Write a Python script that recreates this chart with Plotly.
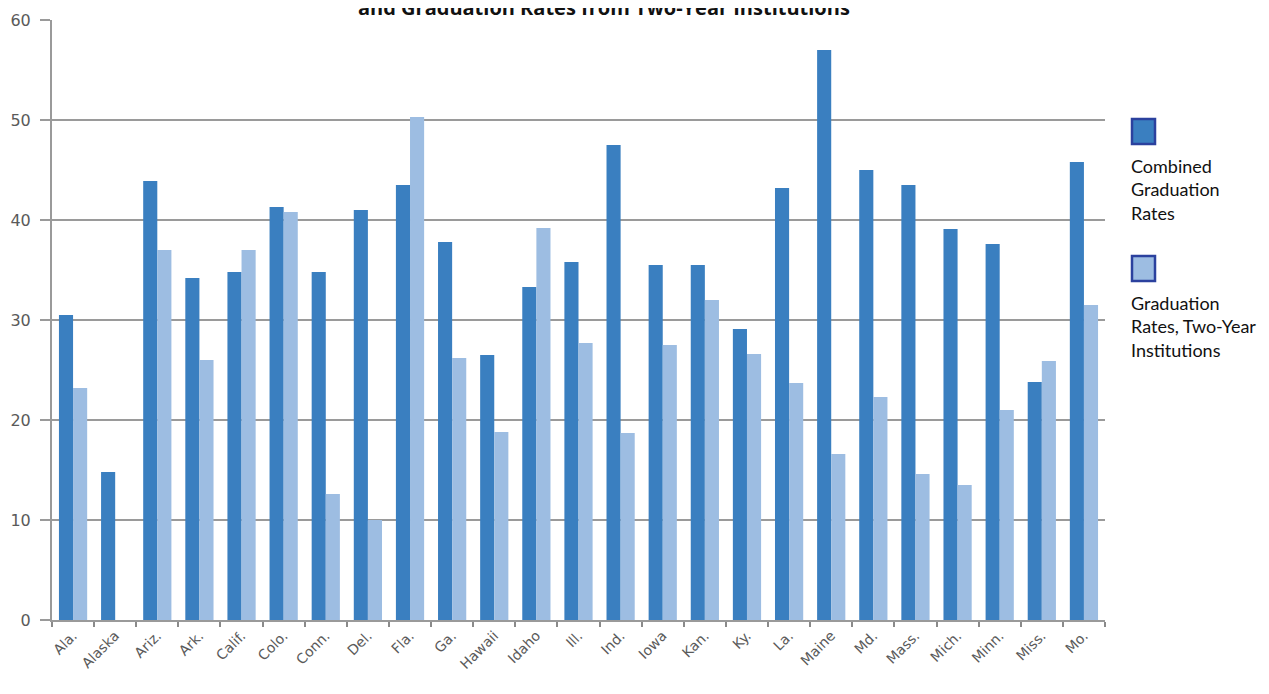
import plotly.graph_objects as go

states = [
    "Ala.", "Alaska", "Ariz.", "Ark.", "Calif.", "Colo.", "Conn.", "Del.",
    "Fla.", "Ga.", "Hawaii", "Idaho", "Ill.", "Ind.", "Iowa", "Kan.", "Ky.",
    "La.", "Maine", "Md.", "Mass.", "Mich.", "Minn.", "Miss.", "Mo.",
]
combined = [
    30.5, 14.8, 43.9, 34.2, 34.8, 41.3, 34.8, 41.0, 43.5, 37.8, 26.5, 33.3,
    35.8, 47.5, 35.5, 35.5, 29.1, 43.2, 57.0, 45.0, 43.5, 39.1, 37.6, 23.8, 45.8,
]
two_year = [
    23.2, None, 37.0, 26.0, 37.0, 40.8, 12.6, 10.0, 50.3, 26.2, 18.8, 39.2,
    27.7, 18.7, 27.5, 32.0, 26.6, 23.7, 16.6, 22.3, 14.6, 13.5, 21.0, 25.9, 31.5,
]
y_ticks = [0, 10, 20, 30, 40, 50, 60]

DARK = "#3a7fc0"
LIGHT = "#9dbde2"
EDGE = "#2b419e"

# plot area in page pixels; the page adds an 8px body margin around the figure
PAGE_OFF = 8
PLOT_L, PLOT_R, PLOT_T, PLOT_B = 52, 1105, 20, 620
W, H = 1269, 694


def px_x(v):
    return (v - PLOT_L) / (PLOT_R - PLOT_L)


def px_y(v):
    return (PLOT_B - v) / (PLOT_B - PLOT_T)


fig = go.Figure()
fig.add_trace(go.Bar(name="Combined Graduation Rates", x=states, y=combined,
                     marker=dict(color=DARK, line_width=0)))
fig.add_trace(go.Bar(name="Graduation Rates, Two-Year Institutions", x=states,
                     y=two_year, marker=dict(color=LIGHT, line_width=0)))

fig.update_layout(
    width=W, height=H,
    margin=dict(l=PLOT_L - PAGE_OFF, r=W - (PLOT_R - PAGE_OFF),
                t=PLOT_T - PAGE_OFF, b=H - (PLOT_B - PAGE_OFF), autoexpand=False),
    paper_bgcolor="white", plot_bgcolor="white",
    barmode="group", bargap=0.33, bargroupgap=0,
    showlegend=False,
    font=dict(family="DejaVu Sans", color="#5a5a5a", size=14),
)
fig.update_xaxes(
    tickangle=-45, ticks="outside", tickson="boundaries", ticklen=5,
    tickcolor="#8a8a8a", tickwidth=2, showline=True, linecolor="#9a9a9a", linewidth=2,
    showgrid=False, tickfont=dict(size=14, color="#5a5a5a"),
)
fig.update_yaxes(
    range=[0, 60], tickvals=y_ticks, ticks="outside", ticklen=10, tickwidth=2,
    tickcolor="#9a9a9a", showline=True, linecolor="#9a9a9a", linewidth=2,
    showgrid=True, gridcolor="#9a9a9a", gridwidth=2, zeroline=False,
    ticklabelstandoff=6, tickfont=dict(size=16, color="#5a5a5a"),
)

# title (only the lower part of its second line shows at the top edge)
fig.add_annotation(
    text="<b>and Graduation Rates from Two-Year Institutions</b>",
    xref="paper", yref="paper", x=px_x(604), y=1, yshift=13,
    xanchor="center", yanchor="middle", showarrow=False,
    font=dict(family="Open Sans", size=20, color="#111111"),
)

# legend drawn on the right, swatch above the label
legend_items = [
    ("Combined<br>Graduation<br>Rates", DARK, 119),
    ("Graduation<br>Rates, Two-Year<br>Institutions", LIGHT, 256),
]
for label, color, top in legend_items:
    fig.add_shape(type="rect", xref="paper", yref="paper",
                  x0=px_x(1132), x1=px_x(1155), y0=px_y(top + 25), y1=px_y(top),
                  fillcolor=color, line=dict(color=EDGE, width=2.5))
    fig.add_annotation(text=label, xref="paper", yref="paper",
                       x=px_x(1129), y=px_y(top + 34),
                       xanchor="left", yanchor="top", align="left", showarrow=False,
                       font=dict(family="Lato", size=18, color="#111111"))

fig.write_html("out.html")
